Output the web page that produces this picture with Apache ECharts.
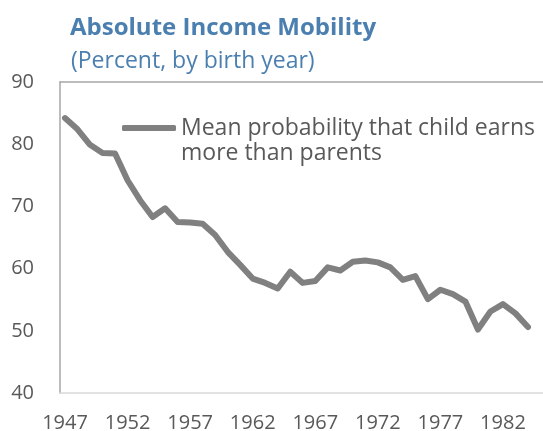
<!DOCTYPE html>
<html>
<head>
<meta charset="utf-8">
<script src="https://cdn.jsdelivr.net/npm/echarts@6/dist/echarts.min.js"></script>
<style>
  html, body { margin: 0; padding: 0; background: #fff; }
  #chartDiv { width: 543px; height: 431px; }
</style>
</head>
<body>
<div id="chartDiv"></div>
<script>
    // birth years and mean probability (%)
    var years = [1947, 1948, 1949, 1950, 1951, 1952, 1953, 1954, 1955, 1956,
        1957, 1958, 1959, 1960, 1961, 1962, 1963, 1964, 1965, 1966,
        1967, 1968, 1969, 1970, 1971, 1972, 1973, 1974, 1975, 1976,
        1977, 1978, 1979, 1980, 1981, 1982, 1983, 1984];
    var mobility = [84.2, 82.4, 79.9, 78.6, 78.5, 74.2, 71.0, 68.3, 69.7, 67.5,
        67.4, 67.2, 65.4, 62.7, 60.6, 58.4, 57.7, 56.8, 59.5, 57.7,
        58.0, 60.2, 59.7, 61.1, 61.3, 61.0, 60.2, 58.2, 58.8, 55.1,
        56.6, 55.9, 54.7, 50.2, 53.1, 54.3, 52.8, 50.6];
    var yearLabels = [1947, 1952, 1957, 1962, 1967, 1972, 1977, 1982];
    var seriesName = 'Mean probability that child earns\nmore than parents';

    var points = [];
    for (var i = 0; i < years.length; i++) {
        points.push([years[i], mobility[i]]);
    }

    var font = '"Open Sans", "Noto Sans", sans-serif';
    var chart = echarts.init(document.getElementById('chartDiv'));
    chart.setOption({
        animation: false,
        title: [{
            text: 'Absolute Income Mobility',
            left: 70, top: 16, padding: 0,
            textStyle: { fontFamily: font, fontSize: 24, fontWeight: 'bold', color: '#4a7fb0' }
        }, {
            text: '(Percent, by birth year)',
            left: 71, top: 50, padding: 0,
            textStyle: { fontFamily: font, fontSize: 23, fontWeight: 'normal', color: '#4a7fb0' }
        }],
        legend: {
            left: 117, top: 109,
            icon: 'roundRect',
            itemWidth: 54, itemHeight: 6,
            formatter: function (name) { return name.split('\n')[0]; },
            textStyle: { fontFamily: font, fontSize: 23, color: '#595959', lineHeight: 28 },
            data: [seriesName]
        },
        // second line of the legend label
        graphic: [{
            type: 'text', left: 181, top: 142,
            style: { text: seriesName.split('\n')[1], font: '23px ' + font, fill: '#595959' }
        }],
        grid: { left: 60, right: 0, top: 82, bottom: 38, outerBoundsMode: 'none' },
        xAxis: [{
            type: 'value', min: 1946.6, max: 1985.2,
            axisLine: { show: true, lineStyle: { color: '#d9d9d9', width: 1.5 } },
            axisTick: { show: false },
            splitLine: { show: false },
            axisLabel: {
                customValues: yearLabels, formatter: function (v) { return String(v); },
                fontFamily: font, fontSize: 20, color: '#595959', margin: 20
            }
        }, {
            type: 'value', min: 1946.6, max: 1985.2, position: 'top',
            axisLine: { show: true, lineStyle: { color: '#a6a6a6', width: 1.5 } },
            axisTick: { show: false }, axisLabel: { show: false }, splitLine: { show: false }
        }],
        yAxis: {
            type: 'value', min: 40, max: 90, interval: 10,
            axisLine: { show: true, lineStyle: { color: '#a6a6a6', width: 1.5 } },
            axisTick: { show: false },
            splitLine: { show: false },
            axisLabel: { fontFamily: font, fontSize: 20, color: '#595959', margin: 26, padding: [4, 0, 0, 0] }
        },
        series: [{
            name: seriesName,
            type: 'line',
            data: points,
            showSymbol: false,
            itemStyle: { color: '#808080' },
            lineStyle: { color: '#808080', width: 6, join: 'round', cap: 'round' }
        }]
    });
</script>
</body>
</html>
